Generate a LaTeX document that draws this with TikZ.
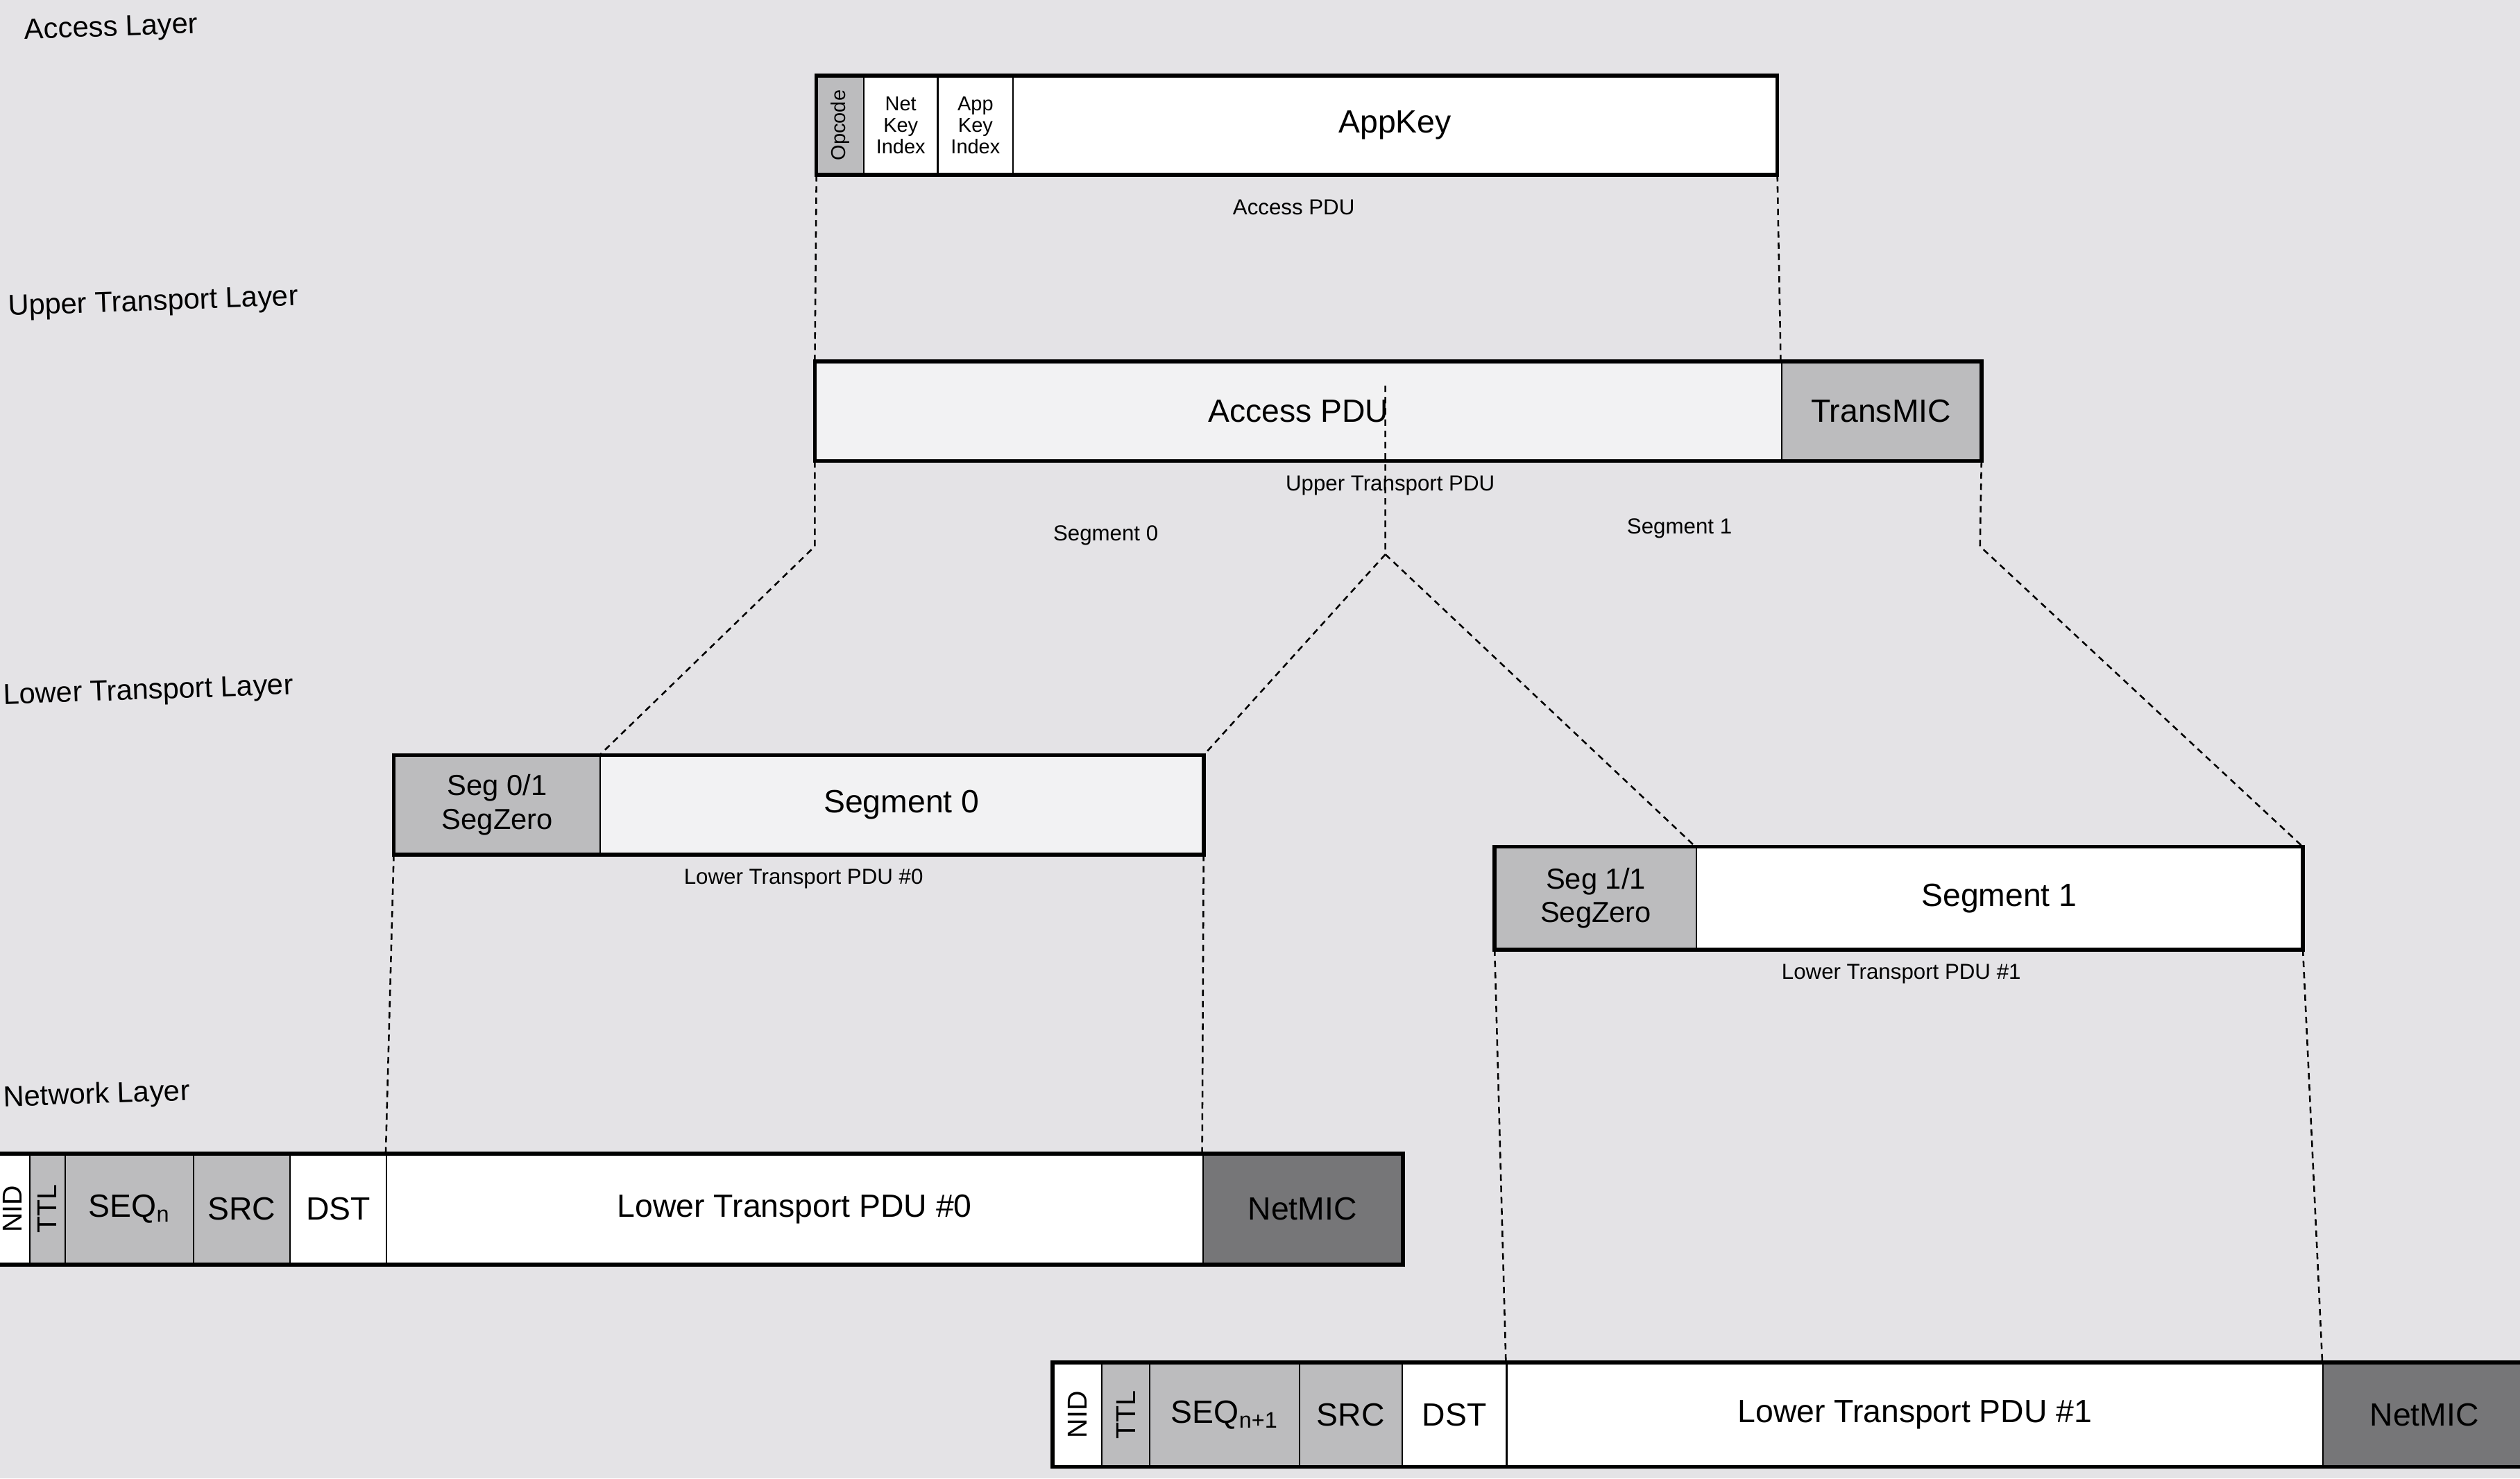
\documentclass[tikz,border=0pt]{standalone}
\usepackage{fontspec}
\usepackage{graphicx}
\setmainfont{Liberation Sans}
\definecolor{paper}{RGB}{228,227,230}
\definecolor{cgray}{RGB}{188,188,190}
\definecolor{dgray}{RGB}{118,118,120}
\definecolor{light}{RGB}{242,242,243}
\begin{document}
\begin{tikzpicture}[x=1pt,y=-1pt,
  cell/.style={draw=black, line width=0.9pt, inner sep=0pt, anchor=north west, align=center, fill=white},
  frame/.style={line width=2.4pt},
  guide/.style={line width=1.1pt, dash pattern=on 4pt off 3pt},
  lbl/.style={font=\fontsize{13.5}{15}\selectfont, inner sep=0pt},
  big/.style={font=\fontsize{20}{22}\selectfont},
  layer/.style={font=\fontsize{18}{20}\selectfont, anchor=west, inner sep=0pt, rotate=2},
]
\useasboundingbox (0,0) rectangle (1568,920);
\clip (0,0) rectangle (1568,920);
\fill[paper] (0,0) rectangle (1568,920);

% layer labels
\node[layer] (lyA) at (15,20) {Access Layer};
\node[layer] (lyU) at (5,192) {Upper Transport Layer};
\node[layer] (lyL) at (2,434) {Lower Transport Layer};
\node[layer] (lyN) at (2,684) {Network Layer};

% access layer
\node[cell, fill=cgray, minimum width=29pt, minimum height=61pt] (op) at (508,47) {\rotatebox{90}{\fontsize{12.5}{13}\selectfont Opcode}};
\node[cell, minimum width=46pt, minimum height=61pt, font=\fontsize{12.5}{13.5}\selectfont] (nk) at (537,47) {Net\\Key\\Index};
\node[cell, minimum width=47pt, minimum height=61pt, font=\fontsize{12.5}{13.5}\selectfont] (ak) at (583,47) {App\\Key\\Index};
\node[cell, big, minimum width=475pt, minimum height=61pt] (appkey) at (630,47) {AppKey};
\draw[frame] (op.north west) rectangle (appkey.south east);
\node[lbl] (accl) at (805,129) {Access PDU};

% upper transport
\node[cell, big, fill=light, minimum width=601pt, minimum height=61pt] (uacc) at (507,225) {Access PDU};
\node[cell, big, fill=cgray, minimum width=124pt, minimum height=61pt] (tmic) at (1108,225) {TransMIC};
\draw[frame] (uacc.north west) rectangle (tmic.south east);
\node[lbl] (upl) at (865,302) {Upper Transport PDU};
\node[lbl] (s0l) at (688,333) {Segment 0};
\node[lbl] (s1l) at (1045,329) {Segment 1};

% lower transport
\node[cell, fill=cgray, minimum width=128pt, minimum height=61pt, font=\fontsize{18}{21}\selectfont] (sz0) at (245,470) {Seg 0/1\\SegZero};
\node[cell, big, fill=light, minimum width=375pt, minimum height=61pt] (seg0) at (373,470) {Segment 0};
\draw[frame] (sz0.north west) rectangle (seg0.south east);
\node[lbl] (l0l) at (500,547) {Lower Transport PDU \#0};

\node[cell, fill=cgray, minimum width=125pt, minimum height=63pt, font=\fontsize{18}{21}\selectfont] (sz1) at (930,527) {Seg 1/1\\SegZero};
\node[cell, big, minimum width=377pt, minimum height=63pt] (seg1) at (1055,527) {Segment 1};
\draw[frame] (sz1.north west) rectangle (seg1.south east);
\node[lbl] (l1l) at (1183,606) {Lower Transport PDU \#1};

% network PDU 0
\node[cell, minimum width=21pt, minimum height=68pt] (nid0) at (-3,718) {\rotatebox{90}{\fontsize{17}{17}\selectfont NID}};
\node[cell, fill=cgray, minimum width=22pt, minimum height=68pt] (ttl0) at (18,718) {\rotatebox{90}{\fontsize{17}{17}\selectfont TTL}};
\node[cell, big, fill=cgray, minimum width=80pt, minimum height=68pt] (seq0) at (40,718) {SEQ\textsubscript{n}};
\node[cell, big, fill=cgray, minimum width=60pt, minimum height=68pt] (src0) at (120,718) {SRC};
\node[cell, big, minimum width=60pt, minimum height=68pt] (dst0) at (180,718) {DST};
\node[cell, big, minimum width=508pt, minimum height=68pt] (lt0) at (240,718) {Lower Transport PDU \#0};
\node[cell, big, fill=dgray, minimum width=124pt, minimum height=68pt] (nm0) at (748,718) {NetMIC};
\draw[frame] (nid0.north west) rectangle (nm0.south east);

% network PDU 1
\node[cell, minimum width=30pt, minimum height=64pt] (nid1) at (655,848) {\rotatebox{90}{\fontsize{17}{17}\selectfont NID}};
\node[cell, fill=cgray, minimum width=30pt, minimum height=64pt] (ttl1) at (685,848) {\rotatebox{90}{\fontsize{17}{17}\selectfont TTL}};
\node[cell, big, fill=cgray, minimum width=93pt, minimum height=64pt] (seq1) at (715,848) {SEQ\textsubscript{n+1}};
\node[cell, big, fill=cgray, minimum width=64pt, minimum height=64pt] (src1) at (808,848) {SRC};
\node[cell, big, minimum width=65pt, minimum height=64pt] (dst1) at (872,848) {DST};
\node[cell, big, minimum width=508pt, minimum height=64pt] (lt1) at (937,848) {Lower Transport PDU \#1};
\node[cell, big, fill=dgray, minimum width=126pt, minimum height=64pt] (nm1) at (1445,848) {NetMIC};
\draw[frame] (nid1.north west) rectangle (nm1.south east);

% guide lines
\coordinate (mtop) at (862,240);
\coordinate (msplit) at (862,345);
\coordinate (lbend) at (507,340);
\coordinate (rbend) at (1232,340);
\draw[guide] (op.south west) -- (uacc.north west);
\draw[guide] (appkey.south east) -- (tmic.north west);
\draw[guide] (mtop) -- (msplit) -- (seg0.north east);
\draw[guide] (msplit) -- (seg1.north west);
\draw[guide] (uacc.south west) -- (lbend) -- (seg0.north west);
\draw[guide] (tmic.south east) -- (rbend) -- (seg1.north east);
\draw[guide] (sz0.south west) -- (lt0.north west);
\draw[guide] (seg0.south east) -- (nm0.north west);
\draw[guide] (sz1.south west) -- (lt1.north west);
\draw[guide] (seg1.south east) -- (nm1.north west);
\end{tikzpicture}
\end{document}
